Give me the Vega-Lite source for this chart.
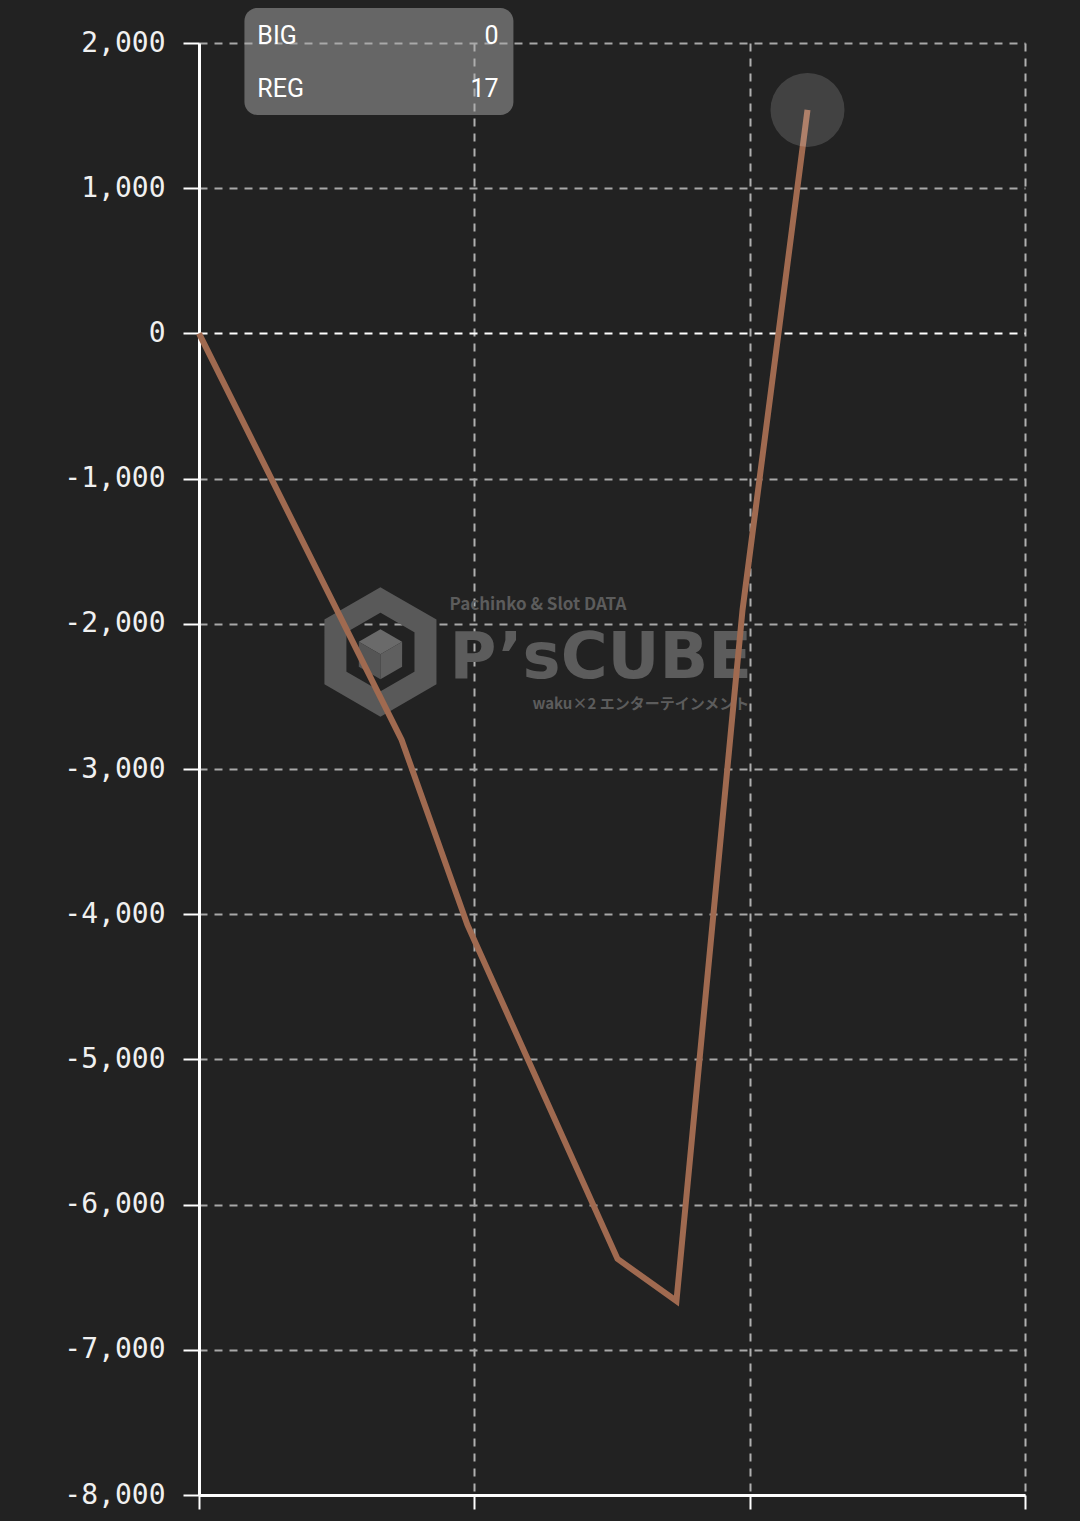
{
  "$schema": "https://vega.github.io/schema/vega-lite/v6.json",
  "width": 826,
  "height": 1452,
  "autosize": {"type": "none"},
  "padding": {"left": 199, "top": 43, "right": 55, "bottom": 26},
  "background": "#222222",
  "config": {
    "view": {"stroke": null},
    "axis": {"domainColor": "#ffffff", "tickColor": "#ffffff"}
  },
  "layer": [
    {
      "data": {"values": [{"x": 659, "y": -2194}]},
      "mark": {"type": "point", "filled": false, "shape": "M0,-1L0.866,-0.5L0.866,0.5L0,1L-0.866,0.5L-0.866,-0.5Z", "size": 10816, "stroke": "#595959", "strokeWidth": 22, "opacity": 1, "clip": false},
      "encoding": {
        "x": {"field": "x", "type": "quantitative", "scale": {"domain": [0, 3000]}},
        "y": {"field": "y", "type": "quantitative", "scale": {"domain": [-8000, 2000]}}
      }
    },
    {
      "data": {"values": [
        {"x": 659, "y": -2210, "face": "top"},
        {"x": 659, "y": -2210, "face": "left"},
        {"x": 659, "y": -2210, "face": "right"}
      ]},
      "mark": {"type": "point", "filled": true, "size": 2500, "opacity": 1, "strokeWidth": 0},
      "encoding": {
        "x": {"field": "x", "type": "quantitative"},
        "y": {"field": "y", "type": "quantitative"},
        "shape": {"field": "face", "type": "nominal", "legend": null, "scale": {"domain": ["top", "left", "right"], "range": ["M0,-1L0.866,-0.5L0,0L-0.866,-0.5Z", "M-0.866,-0.5L0,0L0,1L-0.866,0.5Z", "M0,0L0.866,-0.5L0.866,0.5L0,1Z"]}},
        "color": {"field": "face", "type": "nominal", "legend": null, "scale": {"domain": ["top", "left", "right"], "range": ["#6a6a6a", "#555555", "#5f5f5f"]}}
      }
    },
    {
      "data": {"values": [{"x": 910, "y": -1870, "t": "Pachinko & Slot DATA"}]},
      "mark": {"type": "text", "align": "left", "baseline": "middle", "font": "Noto Sans CJK JP", "fontWeight": "bold", "fontSize": 17, "color": "#5c5c5c"},
      "encoding": {
        "x": {"field": "x", "type": "quantitative"},
        "y": {"field": "y", "type": "quantitative"},
        "text": {"field": "t"}
      }
    },
    {
      "data": {"values": [{"x": 1211, "y": -2552, "t": "waku×2 エンターテインメント"}]},
      "mark": {"type": "text", "align": "left", "baseline": "middle", "font": "Noto Sans CJK JP", "fontWeight": "bold", "fontSize": 15, "color": "#5c5c5c"},
      "encoding": {
        "x": {"field": "x", "type": "quantitative"},
        "y": {"field": "y", "type": "quantitative"},
        "text": {"field": "t"}
      }
    },
    {
      "data": {"values": [{"x": 910, "y": -2373, "t": "P’sCUBE"}]},
      "mark": {"type": "text", "align": "left", "baseline": "alphabetic", "font": "DejaVu Sans", "fontWeight": "bold", "fontSize": 64, "color": "#5c5c5c"},
      "encoding": {
        "x": {"field": "x", "type": "quantitative"},
        "y": {"field": "y", "type": "quantitative"},
        "text": {"field": "t"}
      }
    },
    {
      "data": {"values": [
        {"g": 0, "v": 0},
        {"g": 736, "v": -2800},
        {"g": 975, "v": -4074},
        {"g": 1520, "v": -6374},
        {"g": 1734, "v": -6664},
        {"g": 1974, "v": -1905},
        {"g": 2210, "v": 1539}
      ]},
      "mark": {"type": "line", "color": "#a06a50", "strokeWidth": 6, "clip": false},
      "encoding": {
        "x": {"field": "g", "type": "quantitative", "scale": {"domain": [0, 3000]},
          "axis": {"values": [0, 1000, 2000, 3000], "labels": false, "title": null, "domainWidth": 3, "tickSize": 14, "tickWidth": 2,
            "grid": true, "gridColor": "#b0b0b0", "gridDash": [8, 7], "gridWidth": 2}},
        "y": {"field": "v", "type": "quantitative", "scale": {"domain": [-8000, 2000]},
          "axis": {"values": [-8000, -7000, -6000, -5000, -4000, -3000, -2000, -1000, 0, 1000, 2000],
            "labelExpr": "replace(format(datum.value, ',d'), '−', '-')", "title": null,
            "labelFont": "DejaVu Sans Mono", "labelFontSize": 28, "labelColor": "#f0f0f0", "labelPadding": 18,
            "domainWidth": 3, "tickSize": 16, "tickWidth": 2,
            "grid": true, "gridColor": {"condition": {"test": "datum.value === 0", "value": "#ffffff"}, "value": "#a8a8a8"}, "gridDash": [8, 7], "gridWidth": 2}}
      }
    },
    {
      "data": {"values": [{"g": 2210, "v": 1539}]},
      "mark": {"type": "point", "filled": true, "size": 5476, "color": "#ffffff", "opacity": 0.15, "strokeWidth": 0},
      "encoding": {
        "x": {"field": "g", "type": "quantitative"},
        "y": {"field": "v", "type": "quantitative"}
      }
    },
    {
      "data": {"values": [{"x1": 165, "x2": 1142, "y1": 2241, "y2": 1504}]},
      "mark": {"type": "rect", "color": "#aaaaaa", "opacity": 0.5, "cornerRadius": 13, "clip": false},
      "encoding": {
        "x": {"field": "x1", "type": "quantitative"},
        "x2": {"field": "x2"},
        "y": {"field": "y1", "type": "quantitative"},
        "y2": {"field": "y2"}
      }
    },
    {
      "data": {"values": [
        {"lx": 212, "rx": 1088, "y": 2045, "label": "BIG", "val": "0"},
        {"lx": 212, "rx": 1088, "y": 1680, "label": "REG", "val": "17"}
      ]},
      "layer": [
        {
          "mark": {"type": "text", "align": "left", "baseline": "middle", "font": "Roboto", "fontSize": 25, "color": "#ffffff", "clip": false},
          "encoding": {
            "x": {"field": "lx", "type": "quantitative"},
            "y": {"field": "y", "type": "quantitative"},
            "text": {"field": "label"}
          }
        },
        {
          "mark": {"type": "text", "align": "right", "baseline": "middle", "font": "Roboto", "fontSize": 25, "color": "#ffffff", "clip": false},
          "encoding": {
            "x": {"field": "rx", "type": "quantitative"},
            "y": {"field": "y", "type": "quantitative"},
            "text": {"field": "val"}
          }
        }
      ]
    }
  ]
}
